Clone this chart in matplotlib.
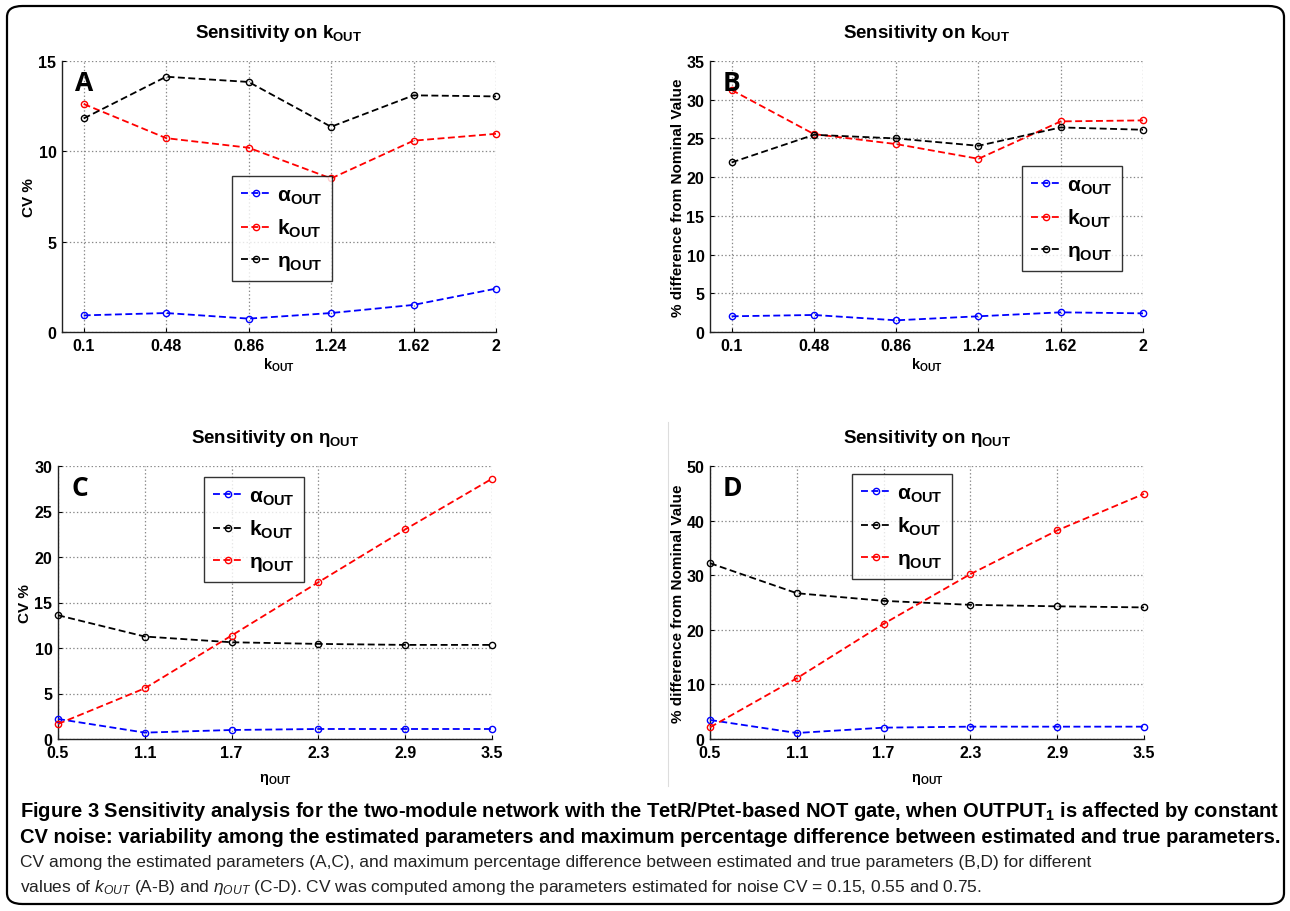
import matplotlib
matplotlib.use("Agg")
import matplotlib.pyplot as plt
from matplotlib.patches import FancyBboxPatch
from matplotlib.lines import Line2D

# ---------------- data ----------------
k_vals = [0.1, 0.48, 0.86, 1.24, 1.62, 2]
eta_vals = [0.5, 1.1, 1.7, 2.3, 2.9, 3.5]

# Panel A: CV % vs k_OUT
A_alpha = [0.92, 1.05, 0.74, 1.05, 1.50, 2.40]
A_k = [12.62, 10.73, 10.20, 8.50, 10.59, 10.97]
A_eta = [11.82, 14.13, 13.84, 11.36, 13.10, 13.04]

# Panel B: % difference vs k_OUT
B_alpha = [2.03, 2.20, 1.51, 2.03, 2.54, 2.41]
B_k = [31.25, 25.56, 24.27, 22.37, 27.20, 27.33]
B_eta = [21.90, 25.47, 25.00, 24.05, 26.42, 26.12]

# Panel C: CV % vs eta_OUT
C_alpha = [2.20, 0.70, 0.99, 1.10, 1.10, 1.10]
C_k = [13.60, 11.26, 10.63, 10.45, 10.34, 10.34]
C_eta = [1.65, 5.57, 11.37, 17.23, 23.03, 28.60]

# Panel D: % difference vs eta_OUT
D_alpha = [3.48, 1.10, 2.08, 2.26, 2.26, 2.26]
D_k = [32.20, 26.70, 25.30, 24.57, 24.30, 24.10]
D_eta = [2.14, 11.12, 21.09, 30.20, 38.20, 44.90]

k_ticklabels = ["0.1", "0.48", "0.86", "1.24", "1.62", "2"]
eta_ticklabels = ["0.5", "1.1", "1.7", "2.3", "2.9", "3.5"]

# ---------------- style ----------------
plt.rcParams['font.family'] = ['Liberation Sans', 'DejaVu Sans']
plt.rcParams['mathtext.fontset'] = 'custom'
plt.rcParams['mathtext.rm'] = 'Liberation Sans:bold'
plt.rcParams['mathtext.bf'] = 'Liberation Sans:bold'
plt.rcParams['mathtext.it'] = 'Liberation Sans:italic'
plt.rcParams['lines.scale_dashes'] = False

W, H = 1290, 912
fig = plt.figure(figsize=(W / 100, H / 100), dpi=100)

# outer rounded frame
frame = FancyBboxPatch((7 / W, 7 / H), (1284 - 7) / W, (905 - 7) / H,
                       boxstyle="round,pad=0,rounding_size=0.012",
                       transform=fig.transFigure, fill=False, lw=1.6,
                       edgecolor='black')
fig.patches.append(frame)
# faint divider between C and D
fig.add_artist(Line2D([668 / W, 668 / W], [1 - 423 / H, 1 - 787 / H],
                      transform=fig.transFigure, color='#dddddd', lw=0.8))

BLUE = '#0000ff'
RED = '#ff0000'
BLACK = '#000000'

def make_ax(left, right, top, bottom):
    return fig.add_axes([left / W, 1 - bottom / H, (right - left) / W, (bottom - top) / H])

def style_ax(ax, xticks, xticklabels, xlim, ylim, yticks):
    ax.set_xlim(*xlim)
    ax.set_ylim(*ylim)
    ax.set_xticks(xticks)
    ax.set_xticklabels(xticklabels)
    ax.set_yticks(yticks)
    ax.grid(True, linestyle=':', color='#888888', lw=0.9)
    for s in ['top', 'right']:
        ax.spines[s].set_visible(False)
    for s in ['left', 'bottom']:
        ax.spines[s].set_linewidth(1.0)
        ax.spines[s].set_color('#222222')
    ax.tick_params(direction='in', length=3, labelsize=11.5, pad=4)
    for lab in ax.get_xticklabels() + ax.get_yticklabels():
        lab.set_fontweight('bold')
    ax.set_axisbelow(True)

def plot_series(ax, x, y, color, label):
    ax.plot(x, y, linestyle='--', dashes=(5, 2.5), color=color, lw=1.3,
            marker='o', ms=4.5, mfc='none', mec=color, mew=1.0, label=label,
            clip_on=False, zorder=3)

def add_legend(ax, bbox_px):
    l, t = bbox_px
    leg = ax.legend(loc='upper left', bbox_to_anchor=(l / W, 1 - t / H),
                    bbox_transform=fig.transFigure,
                    prop={'family': 'Liberation Sans', 'weight': 'bold', 'size': 15},
                    frameon=True, fancybox=False, edgecolor='black',
                    handlelength=1.45, handletextpad=0.25, labelspacing=0.55,
                    borderpad=0.45, borderaxespad=0)
    leg.get_frame().set_linewidth(1.0)
    return leg

lab_a = 'α$_{\\mathrm{OUT}}$'
lab_k = 'k$_{\\mathrm{OUT}}$'
lab_e = 'η$_{\\mathrm{OUT}}$'

title_k = 'Sensitivity on k$_{\\mathrm{OUT}}$'
title_e = 'Sensitivity on η$_{\\mathrm{OUT}}$'

def panel_letter(ax, letter):
    ax.text(0.03, 0.97, letter, transform=ax.transAxes, ha='left', va='top',
            fontsize=19, fontweight='bold', family=['Open Sans', 'DejaVu Sans'])

YL_SIZE = 11

# ---- Panel A ----
axA = make_ax(62, 496, 62, 333)
plot_series(axA, k_vals, A_alpha, BLUE, lab_a)
plot_series(axA, k_vals, A_k, RED, lab_k)
plot_series(axA, k_vals, A_eta, BLACK, lab_e)
style_ax(axA, k_vals, k_ticklabels, (0, 2), (0, 15), [0, 5, 10, 15])
axA.set_title(title_k, fontsize=13.5, fontweight='bold', pad=17)
axA.set_xlabel(lab_k, fontsize=10.5, fontweight='bold', labelpad=2)
axA.set_ylabel('CV %', fontsize=YL_SIZE, fontweight='bold', labelpad=2)
add_legend(axA, (232, 177))
panel_letter(axA, 'A')

# ---- Panel B ----
axB = make_ax(710, 1143, 62, 333)
plot_series(axB, k_vals, B_alpha, BLUE, lab_a)
plot_series(axB, k_vals, B_k, RED, lab_k)
plot_series(axB, k_vals, B_eta, BLACK, lab_e)
style_ax(axB, k_vals, k_ticklabels, (0, 2), (0, 35), [0, 5, 10, 15, 20, 25, 30, 35])
axB.set_title(title_k, fontsize=13.5, fontweight='bold', pad=17)
axB.set_xlabel(lab_k, fontsize=10.5, fontweight='bold', labelpad=2)
axB.set_ylabel('% difference from Nominal Value', fontsize=YL_SIZE, fontweight='bold', labelpad=1)
add_legend(axB, (1022, 167))
panel_letter(axB, 'B')

# ---- Panel C ----
axC = make_ax(58, 492, 467, 740)
plot_series(axC, eta_vals, C_alpha, BLUE, lab_a)
plot_series(axC, eta_vals, C_k, BLACK, lab_k)
plot_series(axC, eta_vals, C_eta, RED, lab_e)
style_ax(axC, eta_vals, eta_ticklabels, (0.5, 3.5), (0, 30), [0, 5, 10, 15, 20, 25, 30])
axC.set_title(title_e, fontsize=13.5, fontweight='bold', pad=17)
axC.set_xlabel(lab_e, fontsize=10.5, fontweight='bold', labelpad=8)
axC.set_ylabel('CV %', fontsize=YL_SIZE, fontweight='bold', labelpad=2)
add_legend(axC, (204, 478))
panel_letter(axC, 'C')

# ---- Panel D ----
axD = make_ax(710, 1144, 467, 740)
plot_series(axD, eta_vals, D_alpha, BLUE, lab_a)
plot_series(axD, eta_vals, D_k, BLACK, lab_k)
plot_series(axD, eta_vals, D_eta, RED, lab_e)
style_ax(axD, eta_vals, eta_ticklabels, (0.5, 3.5), (0, 50), [0, 10, 20, 30, 40, 50])
axD.set_title(title_e, fontsize=13.5, fontweight='bold', pad=17)
axD.set_xlabel(lab_e, fontsize=10.5, fontweight='bold', labelpad=8)
axD.set_ylabel('% difference from Nominal Value', fontsize=YL_SIZE, fontweight='bold', labelpad=1)
add_legend(axD, (852, 475))
panel_letter(axD, 'D')

# ---------------- caption ----------------
cap_font = ['Liberation Sans', 'DejaVu Sans']
line1 = ("Figure 3 Sensitivity analysis for the two-module network with the TetR/Ptet-based NOT gate, "
         "when OUTPUT$_1$ is affected by constant")
line2 = ("CV noise: variability among the estimated parameters and maximum percentage difference "
         "between estimated and true parameters.")
line3 = ("CV among the estimated parameters (A,C), and maximum percentage difference between estimated "
         "and true parameters (B,D) for different")
line4 = ("values of $k_{OUT}$ (A-B) and $\\eta_{OUT}$ (C-D). "
         "CV was computed among the parameters estimated for noise CV = 0.15, 0.55 and 0.75.")
fig.text(20 / W, 1 - 812 / H, line1, fontsize=14.5, fontweight='bold', family=cap_font,
         ha='left', va='center')
fig.text(20 / W, 1 - 838 / H, line2, fontsize=14.5, fontweight='bold', family=cap_font,
         ha='left', va='center')
fig.text(20 / W, 1 - 863 / H, line3, fontsize=12.5, family=cap_font, color='#222222',
         ha='left', va='center')
fig.text(20 / W, 1 - 888 / H, line4, fontsize=12.5, family=cap_font, color='#222222',
         ha='left', va='center')

fig.savefig('out.png', dpi=100)
